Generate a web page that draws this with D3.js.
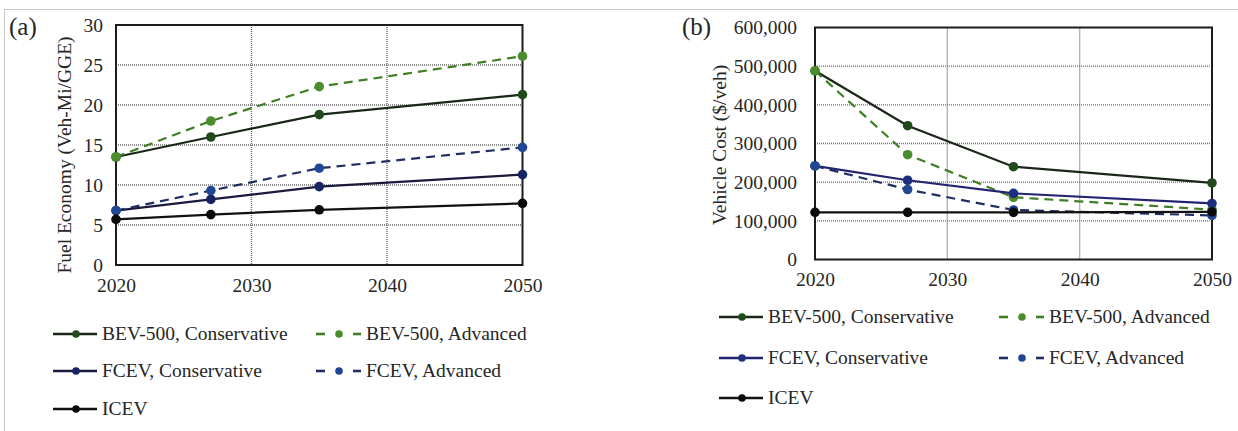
<!DOCTYPE html>
<html><head><meta charset="utf-8">
<script src="https://cdn.jsdelivr.net/npm/d3@7"></script>
<style>
body{margin:0;background:#fff;}
svg text{font-family:'Liberation Serif','Times New Roman','DejaVu Serif',serif !important;fill:#262626;}
</style></head>
<body><svg id="c" width="1238" height="431"></svg>
<script>
const years = [2020, 2027, 2035, 2050];
const xTicks = [2020, 2030, 2040, 2050];
const seriesNames = ["BEV-500, Conservative","BEV-500, Advanced","FCEV, Conservative","FCEV, Advanced","ICEV"];
// Panel (a): Fuel Economy (Veh-Mi/GGE)
const feBevCons = [13.5, 16.0, 18.8, 21.3];
const feBevAdv  = [13.5, 18.0, 22.3, 26.1];
const feFcevCons= [6.8, 8.2, 9.8, 11.3];
const feFcevAdv = [6.8, 9.3, 12.1, 14.7];
const feIcev    = [5.7, 6.3, 6.9, 7.7];
const feTicks = [0,5,10,15,20,25,30];
// Panel (b): Vehicle Cost ($/veh)
const vcBevCons = [488000, 346000, 240000, 198000];
const vcBevAdv  = [488000, 271000, 161000, 129000];
const vcFcevCons= [242000, 205000, 171000, 145000];
const vcFcevAdv = [242000, 181000, 128000, 114000];
const vcIcev    = [122000, 122000, 122000, 123000];
const vcTicks = [0,100000,200000,300000,400000,500000,600000];

const FONT = "'Liberation Serif','Times New Roman','DejaVu Serif',serif";
const styles = [
  {line:"#1a2618", marker:"#1f4a1a", dash:null},
  {line:"#3f7f24", marker:"#4b8d2d", dash:"9,6"},
  {line:"#1a1a3c", marker:"#172463", dash:null},
  {line:"#1f2d62", marker:"#1f4794", dash:"9,6"},
  {line:"#111111", marker:"#0a0a0a", dash:null}
];
const stylesB = styles.map((s,i)=> i===2 ? {line:"#232372", marker:"#1d2f80", dash:null} : s);

const svg = d3.select("#c");
// outer frame
svg.append("line").attr("x1",4).attr("x2",1238).attr("y1",9.5).attr("y2",9.5).attr("stroke","#c8c8c8").attr("stroke-width",1);
svg.append("line").attr("x1",4.5).attr("x2",4.5).attr("y1",9).attr("y2",431).attr("stroke","#c8c8c8").attr("stroke-width",1);

function panel(cfg){
  const g = svg.append("g");
  const x = d3.scaleLinear().domain([2020,2050]).range([cfg.x0, cfg.x1]);
  const y = d3.scaleLinear().domain([cfg.ticks[0], cfg.ticks[cfg.ticks.length-1]]).range([cfg.y1, cfg.y0]);
  // gridlines
  g.append("g").selectAll("line").data(cfg.ticks.slice(1,-1)).join("line")
    .attr("x1",cfg.x0).attr("x2",cfg.x1).attr("y1",d=>y(d)).attr("y2",d=>y(d))
    .attr("stroke","#6a6a6a").attr("stroke-width",1.4).attr("stroke-dasharray","1,1");
  g.append("g").selectAll("line").data(xTicks.slice(1,-1)).join("line")
    .attr("x1",d=>x(d)).attr("x2",d=>x(d)).attr("y1",cfg.y0).attr("y2",cfg.y1)
    .attr("stroke","#6a6a6a").attr("stroke-width",1.4).attr("stroke-dasharray","1,1");
  // frame
  g.append("rect").attr("x",cfg.x0).attr("y",cfg.y0).attr("width",cfg.x1-cfg.x0).attr("height",cfg.y1-cfg.y0)
    .attr("fill","none").attr("stroke","#1c1c1c").attr("stroke-width",2);
  // axes
  const ya = d3.axisLeft(y).tickValues(cfg.ticks).tickSize(0).tickPadding(cfg.tickPad).tickFormat(cfg.fmt);
  const ga = g.append("g").attr("transform",`translate(${cfg.x0},0)`).call(ya);
  ga.select(".domain").remove();
  ga.selectAll("text").style("font-family",FONT).style("font-size","19.5px").attr("fill","#262626");
  const xa = d3.axisBottom(x).tickValues(xTicks).tickSize(0).tickPadding(13).tickFormat(d3.format("d"));
  const gx = g.append("g").attr("transform",`translate(0,${cfg.y1})`).call(xa);
  gx.select(".domain").remove();
  gx.selectAll("text").style("font-family",FONT).style("font-size","19.5px").attr("fill","#262626");
  // series
  const line = d3.line().x((d,i)=>x(years[i])).y(d=>y(d));
  cfg.data.forEach((vals,k)=>{
    const s = cfg.styles[k];
    g.append("path").attr("d",line(vals)).attr("fill","none").attr("stroke",s.line)
      .attr("stroke-width",2.2).attr("stroke-dasharray",s.dash);
  });
  cfg.data.forEach((vals,k)=>{
    const s = cfg.styles[k];
    g.append("g").selectAll("circle").data(vals).join("circle")
      .attr("cx",(d,i)=>x(years[i])).attr("cy",d=>y(d)).attr("r",4.8).attr("fill",s.marker);
  });
  // axis title
  g.append("text").attr("transform",`translate(${cfg.titleX},${cfg.titleY}) rotate(-90)`)
    .attr("text-anchor","middle").style("font-family",FONT).style("font-size","19.5px").text(cfg.title);
  // panel label
  g.append("text").attr("x",cfg.labelX).attr("y",35).style("font-family",FONT).style("font-size","25px").text(cfg.label);
  // legend
  const L = cfg.legend;
  const pos = [[0,0],[1,0],[0,1],[1,1],[0,2]];
  seriesNames.forEach((n,k)=>{
    const s = cfg.styles[k];
    const lx = L.cols[pos[k][0]], ly = L.rows[pos[k][1]];
    const lg = g.append("g");
    if(s.dash){
      lg.append("line").attr("x1",lx).attr("x2",lx+9).attr("y1",ly).attr("y2",ly).attr("stroke",s.line).attr("stroke-width",2.6);
      lg.append("line").attr("x1",lx+37).attr("x2",lx+45).attr("y1",ly).attr("y2",ly).attr("stroke",s.line).attr("stroke-width",2.6);
      lg.append("circle").attr("cx",lx+23).attr("cy",ly).attr("r",3.8).attr("fill",s.marker);
      lg.append("text").attr("x",lx+50).attr("y",ly+6).style("font-family",FONT).style("font-size","19.5px").text(n);
    } else {
      lg.append("line").attr("x1",lx).attr("x2",lx+44).attr("y1",ly).attr("y2",ly).attr("stroke",s.line).attr("stroke-width",2.6);
      lg.append("circle").attr("cx",lx+23).attr("cy",ly).attr("r",3.8).attr("fill",s.marker);
      lg.append("text").attr("x",lx+49).attr("y",ly+6).style("font-family",FONT).style("font-size","19.5px").text(n);
    }
  });
}

panel({x0:116, x1:522.5, y0:25, y1:265, ticks:feTicks, fmt:d3.format("d"), tickPad:13,
  data:[feBevCons,feBevAdv,feFcevCons,feFcevAdv,feIcev], styles:styles,
  title:"Fuel Economy (Veh-Mi/GGE)", titleX:71, titleY:155, label:"(a)", labelX:9,
  legend:{cols:[53,316], rows:[334,371,409]}});

panel({x0:815, x1:1212, y0:27.5, y1:259.5, ticks:vcTicks, fmt:d3.format(","), tickPad:18,
  data:[vcBevCons,vcBevAdv,vcFcevCons,vcFcevAdv,vcIcev], styles:stylesB,
  title:"Vehicle Cost ($/veh)", titleX:726, titleY:145, label:"(b)", labelX:682,
  legend:{cols:[719,999], rows:[317,358,398]}});
</script></body></html>
